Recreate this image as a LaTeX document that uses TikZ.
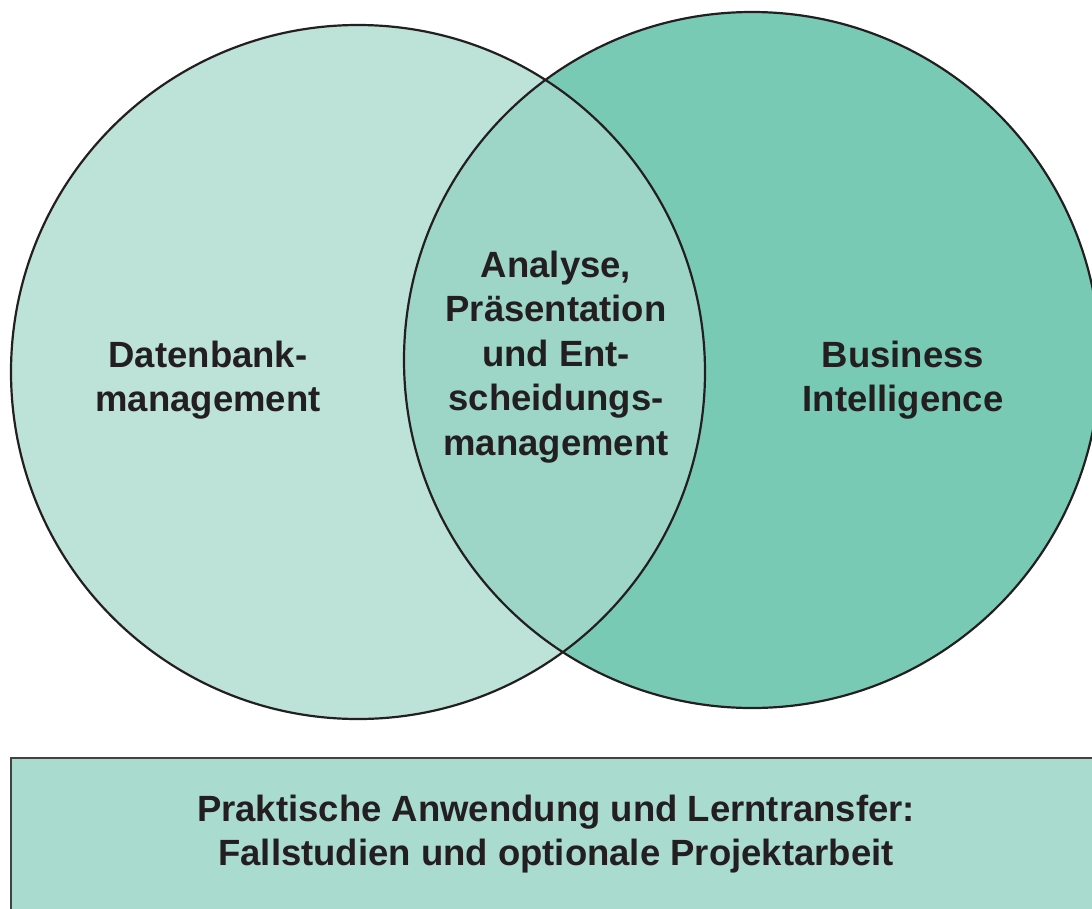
\documentclass[tikz,border=0pt]{standalone}
\usepackage{fontspec}
\setmainfont{Liberation Sans}
\usetikzlibrary{positioning}

\definecolor{dbgreen}{HTML}{BDE2D7}
\definecolor{bigreen}{HTML}{79CAB4}
\definecolor{midgreen}{HTML}{9DD6C6}
\definecolor{boxgreen}{HTML}{A9DBCF}
\definecolor{inkline}{HTML}{231F20}

\begin{document}
\begin{tikzpicture}[
    x=1pt, y=-1pt,
    label/.style={align=center, font=\fontsize{36.5}{44.5}\selectfont\bfseries, text=inkline, inner sep=0pt},
    outline/.style={draw=inkline, line width=2.2pt}
]
    \useasboundingbox (0,0) rectangle (1092,908);
    \clip (0,0) rectangle (1092,908);

    \coordinate (dbc) at (358,372);
    \coordinate (bic) at (752,360);

    % circles
    \fill[dbgreen] (dbc) circle (347);
    \fill[bigreen] (bic) circle (348);
    \begin{scope}
        \clip (dbc) circle (347);
        \fill[midgreen] (bic) circle (348);
    \end{scope}
    \draw[outline] (dbc) circle (347);
    \draw[outline] (bic) circle (348);

    \node[label] (db) at (208,380) {Datenbank-\\management};
    \node[label] (bi) at (903,380) {Business\\Intelligence};
    \node[label] (mid) at (556,357) {Analyse,\\Präsentation\\und Ent-\\scheidungs-\\management};

    % bottom box
    \draw[draw=inkline!85, line width=1.5pt, fill=boxgreen] (11,758) rectangle (1110,930);
    \node[label] (praxis) at (556,834) {Praktische Anwendung und Lerntransfer:\\Fallstudien und optionale Projektarbeit};
\end{tikzpicture}
\end{document}
